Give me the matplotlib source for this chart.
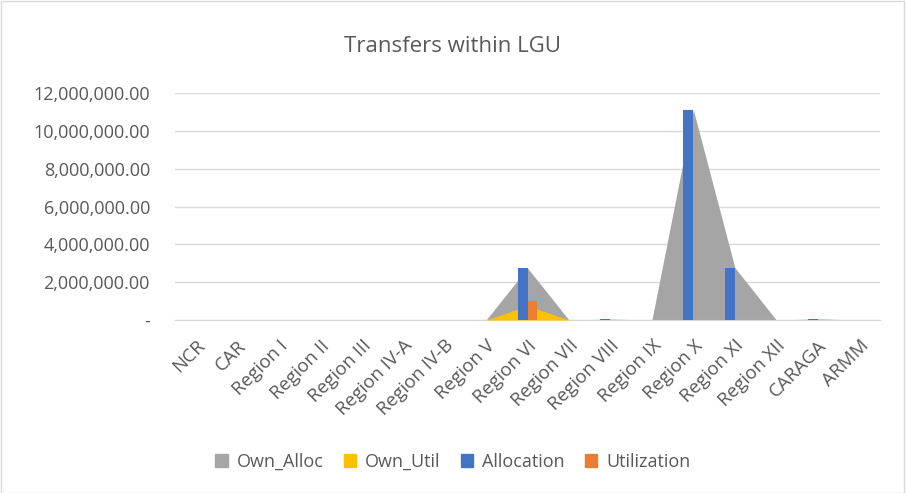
import matplotlib
matplotlib.use("Agg")
import matplotlib.pyplot as plt
import numpy as np
from matplotlib.patches import Patch
from matplotlib.ticker import FuncFormatter

categories = ["NCR", "CAR", "Region I", "Region II", "Region III", "Region IV-A",
              "Region IV-B", "Region V", "Region VI", "Region VII", "Region VIII",
              "Region IX", "Region X", "Region XI", "Region XII", "CARAGA", "ARMM"]
own_alloc = [0, 0, 0, 0, 0, 0, 0, 0, 2750000, 0, 50000, 0, 11100000, 2770000, 0, 60000, 0]
own_util = [0, 0, 0, 0, 0, 0, 0, 0, 750000, 0, 0, 0, 0, 0, 0, 0, 0]
allocation = [0, 0, 0, 0, 0, 0, 0, 0, 2750000, 0, 50000, 0, 11100000, 2770000, 0, 60000, 0]
utilization = [0, 0, 0, 0, 0, 0, 0, 0, 1000000, 0, 0, 0, 0, 0, 0, 0, 0]
yticks = [0, 2000000, 4000000, 6000000, 8000000, 10000000, 12000000]

plt.rcParams['font.family'] = ['Open Sans', 'DejaVu Sans']
txt = '#595959'

fig = plt.figure(figsize=(9.06, 4.93), dpi=100)
fig.patches.append(plt.Rectangle((0.001, 0.001), 0.997, 0.997, transform=fig.transFigure,
                                 fill=False, edgecolor='#D9D9D9', linewidth=1))
ax = fig.add_axes([175/906, 1-320/493, (880-175)/906, (320-93)/493])

x = np.arange(len(categories))
ax.fill_between(x, 0, own_alloc, color='#A5A5A5', linewidth=0, zorder=2)
ax.fill_between(x, 0, own_util, color='#FFC000', linewidth=0, zorder=3)
w = 0.24
ax.bar(x - w/2, allocation, width=w, color='#4472C4', zorder=4)
ax.bar(x + w/2, utilization, width=w, color='#ED7D31', zorder=4)

ax.set_xlim(-0.5, len(categories) - 0.5)
ax.set_ylim(0, 12000000)
ax.set_yticks(yticks)
ax.yaxis.set_major_formatter(FuncFormatter(lambda v, p: '-' if v == 0 else f'{v:,.2f}'))
ax.grid(axis='y', color='#D9D9D9', linewidth=1, zorder=0)
ax.set_axisbelow(True)
for s in ['top', 'right', 'left']:
    ax.spines[s].set_visible(False)
ax.spines['bottom'].set_color('#D9D9D9')
ax.tick_params(axis='both', length=0, colors=txt, labelsize=13)
ax.tick_params(axis='y', pad=18)
ax.set_xticks(x)
ax.set_xticklabels(categories, rotation=45, ha='right', rotation_mode='anchor', fontsize=13.5)
ax.tick_params(axis='x', pad=12)

fig.text(0.5, 1-46/493, 'Transfers within LGU', ha='center', va='center', fontsize=16, color=txt)

handles = [Patch(color='#A5A5A5', label='Own_Alloc'), Patch(color='#FFC000', label='Own_Util'),
           Patch(color='#4472C4', label='Allocation'), Patch(color='#ED7D31', label='Utilization')]
leg = fig.legend(handles=handles, loc='center', bbox_to_anchor=(0.5, 1-462/493), ncol=4,
                 frameon=False, fontsize=13, handlelength=0.7, handleheight=0.7,
                 columnspacing=1.1, handletextpad=0.5)
for t in leg.get_texts():
    t.set_color(txt)

fig.savefig('out.png', dpi=100)
